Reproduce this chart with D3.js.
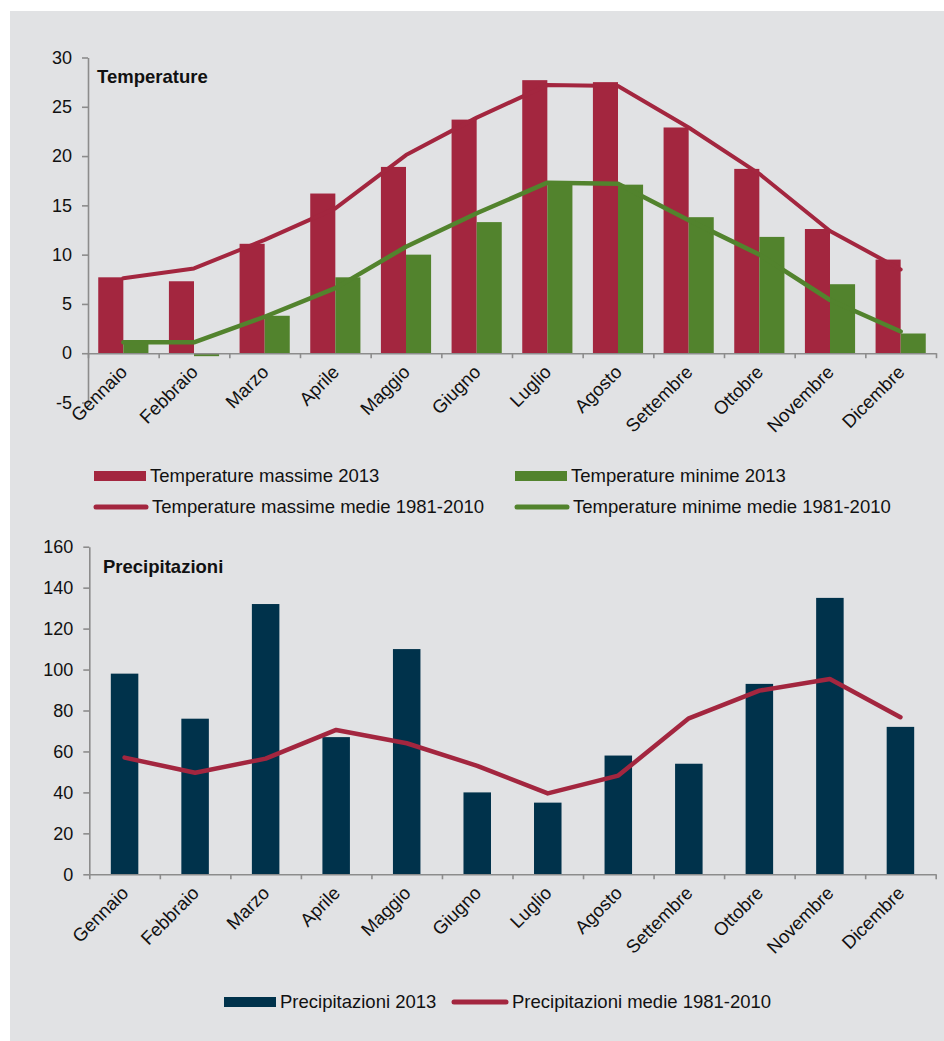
<!DOCTYPE html>
<html>
<head>
<meta charset="utf-8">
<script src="https://cdn.jsdelivr.net/npm/d3@7"></script>
<style>
  body { margin: 0; background: #fff; }
  svg { display: block; font-family: "Liberation Sans", Arial, sans-serif; }
  .axis path, .axis line { stroke: #8c8c8c; stroke-width: 1.6; }
  .axis text { fill: #111; font-size: 18px; }
</style>
</head>
<body>
<div id="chart"></div>
<script>
// months
const months = ['Gennaio', 'Febbraio', 'Marzo', 'Aprile', 'Maggio', 'Giugno',
                'Luglio', 'Agosto', 'Settembre', 'Ottobre', 'Novembre', 'Dicembre'];

// temperature (°C)
const tMax2013 = [7.7, 7.3, 11.1, 16.2, 18.9, 23.7, 27.7, 27.5, 22.9, 18.7, 12.6, 9.5];
const tMin2013 = [1.2, -0.3, 3.8, 7.7, 10.0, 13.3, 17.4, 17.1, 13.8, 11.8, 7.0, 2.0];
const tMaxMedie = [7.6, 8.6, 11.5, 14.7, 20.1, 23.9, 27.2, 27.1, 22.9, 18.2, 12.4, 8.5];
const tMinMedie = [1.1, 1.1, 3.7, 6.6, 10.8, 14.2, 17.3, 17.2, 13.5, 10.0, 5.4, 2.2];
const tempTicks = [-5, 0, 5, 10, 15, 20, 25, 30];

// precipitazioni (mm)
const prec2013 = [98, 76, 132, 67, 110, 40, 35, 58, 54, 93, 135, 72];
const precMedie = [57, 49.6, 56.5, 70.5, 64, 53, 39.5, 48.2, 76.2, 89.7, 95.4, 76.7];
const precTicks = [0, 20, 40, 60, 80, 100, 120, 140, 160];

const RED = '#a3263f';
const GREEN = '#52832d';
const NAVY = '#00324b';

const width = 944, height = 1041;
const svg = d3.select('#chart').append('svg')
  .attr('width', width).attr('height', height);

svg.append('rect')
  .attr('x', 10).attr('y', 11)
  .attr('width', width - 10).attr('height', height - 11)
  .attr('fill', '#e1e2e4');

function draw_month_axis(g, x, yAxis)
{
  // boundary ticks between categories
  const idx = d3.scaleLinear().domain([0, months.length]).range(x.range());
  g.append('g')
    .attr('class', 'axis')
    .attr('transform', `translate(0,${yAxis})`)
    .call(d3.axisBottom(idx).tickValues(d3.range(0, months.length + 1)).tickSize(5).tickSizeOuter(0).tickFormat(''));

  g.append('g')
    .selectAll('text')
    .data(months)
    .join('text')
    .attr('transform', d => `translate(${x(d) + x.bandwidth() / 2 + 5},${yAxis + 20}) rotate(-45)`)
    .attr('text-anchor', 'end')
    .attr('fill', '#111')
    .style('font-size', '18.5px')
    .text(d => d);
}

/* TEMPERATURE */
const tempChart = svg.append('g');
const x1 = d3.scaleBand().domain(months).range([88, 936]).padding(0);
const y1 = d3.scaleLinear().domain([-5, 30]).range([402.5, 57.5]);
const sub = d3.scaleBand().domain(['max', 'min'])
  .range([x1.bandwidth() * 0.145, x1.bandwidth() * 0.855]).padding(0);

tempChart.append('g')
  .attr('class', 'axis')
  .attr('transform', 'translate(88,0)')
  .call(d3.axisLeft(y1).tickValues(tempTicks).tickSize(6).tickSizeOuter(0).tickPadding(10)
    .tickFormat(d => String(d)));

const tempRows = months.map((m, i) => ({month: m, max: tMax2013[i], min: tMin2013[i]}));

tempChart.append('g')
  .selectAll('rect')
  .data(tempRows)
  .join('rect')
  .attr('x', d => x1(d.month) + sub('max'))
  .attr('width', sub.bandwidth())
  .attr('y', d => y1(Math.max(0, d.max)))
  .attr('height', d => Math.abs(y1(d.max) - y1(0)))
  .attr('fill', RED);

tempChart.append('g')
  .selectAll('rect')
  .data(tempRows)
  .join('rect')
  .attr('x', d => x1(d.month) + sub('min'))
  .attr('width', sub.bandwidth())
  .attr('y', d => y1(Math.max(0, d.min)))
  .attr('height', d => Math.abs(y1(d.min) - y1(0)))
  .attr('fill', GREEN);

draw_month_axis(tempChart, x1, y1(0));

const line1 = d3.line()
  .x((d, i) => x1(months[i]) + x1.bandwidth() / 2)
  .y(d => y1(d));

tempChart.append('path')
  .datum(tMaxMedie)
  .attr('d', line1)
  .attr('fill', 'none')
  .attr('stroke', RED)
  .attr('stroke-width', 4)
  .attr('stroke-linecap', 'round')
  .attr('stroke-linejoin', 'round');

tempChart.append('path')
  .datum(tMinMedie)
  .attr('d', line1)
  .attr('fill', 'none')
  .attr('stroke', GREEN)
  .attr('stroke-width', 4.5)
  .attr('stroke-linecap', 'round')
  .attr('stroke-linejoin', 'round');

tempChart.append('text')
  .attr('x', 97).attr('y', 83)
  .attr('font-weight', 'bold')
  .style('font-size', '18.5px')
  .attr('fill', '#111')
  .text('Temperature');

/* PRECIPITAZIONI */
const precChart = svg.append('g');
const x2 = d3.scaleBand().domain(months).range([89.3, 935.7]).padding(0);
const y2 = d3.scaleLinear().domain([0, 160]).range([874.3, 546.7]);
const barW = x2.bandwidth() * 0.39;

precChart.append('g')
  .attr('class', 'axis')
  .attr('transform', 'translate(89.3,0)')
  .call(d3.axisLeft(y2).tickValues(precTicks).tickSize(6).tickSizeOuter(0).tickPadding(10)
    .tickFormat(d => String(d)));

precChart.append('g')
  .selectAll('rect')
  .data(prec2013)
  .join('rect')
  .attr('x', (d, i) => x2(months[i]) + (x2.bandwidth() - barW) / 2)
  .attr('width', barW)
  .attr('y', d => y2(d))
  .attr('height', d => y2(0) - y2(d))
  .attr('fill', NAVY);

draw_month_axis(precChart, x2, y2(0));

const line2 = d3.line()
  .x((d, i) => x2(months[i]) + x2.bandwidth() / 2)
  .y(d => y2(d));

precChart.append('path')
  .datum(precMedie)
  .attr('d', line2)
  .attr('fill', 'none')
  .attr('stroke', RED)
  .attr('stroke-width', 4.5)
  .attr('stroke-linecap', 'round')
  .attr('stroke-linejoin', 'round');

precChart.append('text')
  .attr('x', 103).attr('y', 573)
  .attr('font-weight', 'bold')
  .style('font-size', '18.5px')
  .attr('fill', '#111')
  .text('Precipitazioni');

/* LEGENDS */
const legendItems = [
  {label: 'Temperature massime 2013', color: RED, type: 'bar', x: 94, y: 476, w: 52},
  {label: 'Temperature minime 2013', color: GREEN, type: 'bar', x: 515, y: 476, w: 52},
  {label: 'Temperature massime medie 1981-2010', color: RED, type: 'line', x: 94, y: 507, w: 54},
  {label: 'Temperature minime medie 1981-2010', color: GREEN, type: 'line', x: 515, y: 507, w: 54},
  {label: 'Precipitazioni 2013', color: NAVY, type: 'bar', x: 224, y: 1002, w: 52},
  {label: 'Precipitazioni medie 1981-2010', color: RED, type: 'line', x: 452, y: 1002, w: 56}
];

const leg = svg.append('g')
  .selectAll('g')
  .data(legendItems)
  .join('g')
  .attr('transform', d => `translate(${d.x},${d.y})`);

leg.filter(d => d.type === 'bar')
  .append('rect')
  .attr('x', 0).attr('y', -5)
  .attr('width', d => d.w).attr('height', 10)
  .attr('fill', d => d.color);

leg.filter(d => d.type === 'line')
  .append('line')
  .attr('x1', 2).attr('x2', d => d.w - 2)
  .attr('stroke', d => d.color)
  .attr('stroke-width', 5)
  .attr('stroke-linecap', 'round');

leg.append('text')
  .attr('x', d => d.w + 4)
  .attr('y', 6)
  .attr('fill', '#111')
  .style('font-size', '18.5px')
  .text(d => d.label);
</script>
</body>
</html>
